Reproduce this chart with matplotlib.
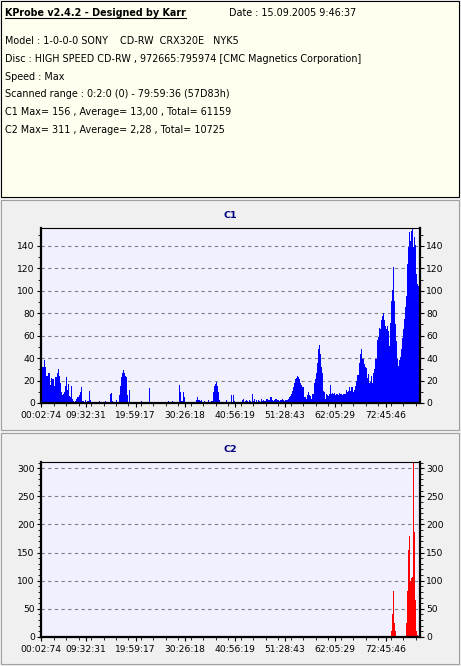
import numpy as np
import matplotlib.pyplot as plt
from matplotlib.patches import Rectangle
from matplotlib.lines import Line2D
from matplotlib.ticker import MultipleLocator, FixedLocator

plt.rcParams['font.family'] = ['DejaVu Sans']

# --- header text ---
title_txt = "KProbe v2.4.2 - Designed by Karr"
date_txt = "Date : 15.09.2005 9:46:37"
info_lines = [
    "Model : 1-0-0-0 SONY    CD-RW  CRX320E   NYK5",
    "Disc : HIGH SPEED CD-RW , 972665:795974 [CMC Magnetics Corporation]",
    "Speed : Max",
    "Scanned range : 0:2:0 (0) - 79:59:36 (57D83h)",
    "C1 Max= 156 , Average= 13,00 , Total= 61159",
    "C2 Max= 311 , Average= 2,28 , Total= 10725",
]

# --- scan range (mm:ss:ff) and x tick labels ---
scan_start = "00:02:00"
scan_end = "79:59:36"
x_labels = ["00:02:74", "09:32:31", "19:59:17", "30:26:18",
            "40:56:19", "51:28:43", "62:05:29", "72:45:46"]

# --- C1 errors, one value per sample block ---
c1 = [
    42, 32, 32, 38, 32, 24, 24, 27, 27, 16,
    22, 21, 21, 15, 23, 23, 27, 30, 24, 18,
    10, 7, 8, 10, 15, 23, 12, 17, 6, 5,
    15, 4, 2, 1, 2, 4, 5, 5, 7, 10,
    14, 2, 2, 1, 3, 1, 2, 2, 11, 3,
    0, 0, 1, 1, 0, 0, 0, 1, 2, 1,
    1, 0, 0, 1, 2, 0, 0, 0, 0, 8,
    9, 2, 1, 0, 0, 3, 0, 0, 7, 15,
    23, 27, 29, 27, 24, 23, 7, 0, 12, 0,
    0, 0, 0, 0, 1, 0, 0,
    0, 0, 0, 2, 0, 0, 0, 0, 0, 1, 0, 13, 1,
    0, 0, 0, 0, 0, 0, 0, 0, 0, 0, 0, 0, 0, 0, 0, 0, 0,
    2, 0, 0, 0, 2, 1, 1, 1, 1, 1, 0, 16, 10, 2, 2, 10, 5, 1, 1,
    0, 0, 0, 0, 0, 0, 0,
    1, 1, 3, 5, 3, 3, 2, 3, 1, 1, 2, 1, 1, 1, 3, 1, 1, 2, 2, 10,
    15, 17, 19, 15, 10, 3, 1, 1, 1, 1, 1, 1, 3, 1, 1, 1, 1, 7,
    1, 7, 2, 1, 1, 1, 1, 1, 1, 1, 3, 4, 1, 2, 3, 2, 1, 3, 2, 1,
    8, 2, 4, 1, 3, 1, 3, 2, 1, 4, 2, 3, 2, 2, 4, 4, 3, 3, 5, 5,
    3, 2, 3, 4, 4, 3, 3, 2, 3, 3, 4, 3, 2, 3, 3, 3, 4, 5, 6, 8,
    11, 14, 18, 21, 22, 24, 23, 21, 18, 16, 14, 14, 5, 5, 4, 7, 10, 7, 6, 4,
    8, 8, 18, 21, 27, 36, 48, 52, 44, 32, 27, 11, 10, 4, 8, 7, 6, 8, 16, 8,
    9, 8, 9, 7, 8, 8, 7, 9, 8, 8, 7, 8, 8, 8, 12, 10, 11, 14, 11, 14,
    14, 10, 12, 15, 20, 25, 25, 36, 44, 48, 39, 39, 35, 32, 31, 22, 26, 18, 19, 24,
    18, 27, 30, 39, 39, 56, 59, 67, 66, 74, 78, 80, 74, 69, 66, 69, 64, 51, 71, 91,
    101, 121, 91, 70, 55, 39, 33, 38, 41, 48, 58, 66, 75, 86, 95, 124, 139, 152, 144, 153,
    156, 139, 148, 141, 115, 106, 104, 115,
]

# --- C2 errors: zero until the last part of the disc ---
c2_tail_start = 350
c2_tail = [10, 41, 81, 25, 11, 0, 0, 0, 0, 0, 0, 0, 0, 0, 0,
           25, 81, 155, 180, 100, 105, 106, 311, 186, 66, 11, 4, 0, 0]


def to_min(s):
    m, sec, fr = (int(v) for v in s.split(":"))
    return m + sec / 60 + fr / 4500


W, H = 461, 666
fig = plt.figure(figsize=(W / 100, H / 100), dpi=100)
fig.patch.set_facecolor('#f0f0f0')


def rect(x0, y0, x1, y1):
    return [x0 / W, 1 - y1 / H, (x1 - x0) / W, (y1 - y0) / H]


# header box and the two panels (behind the axes)
fig.add_artist(Rectangle((1 / W, 1 - 197 / H), 458 / W, 196 / H, transform=fig.transFigure,
                         fc='#fffff0', ec='black', lw=0.8, zorder=-2))
for y0, y1 in [(200, 430), (433, 664)]:
    fig.add_artist(Rectangle((1 / W, 1 - y1 / H), 458 / W, (y1 - y0) / H,
                             transform=fig.transFigure, fc='#f0f0f0', ec='#a0a0a0',
                             lw=0.8, zorder=-2))

t = fig.text(5 / W, 1 - 12.5 / H, title_txt, fontsize=6.9, weight='bold', va='center')
fig.text(229 / W, 1 - 12.5 / H, date_txt, fontsize=6.9, va='center')
for i, line in enumerate(info_lines):
    fig.text(5 / W, 1 - (41 + i * 17.8) / H, line, fontsize=6.9, va='center')

# underline the title
fig.canvas.draw()
bb = t.get_window_extent().transformed(fig.transFigure.inverted())
fig.add_artist(Line2D([bb.x0, bb.x1], [bb.y0 - 0.5 / H, bb.y0 - 0.5 / H],
                      transform=fig.transFigure, color='black', lw=0.8))

x0, x1 = to_min(scan_start), to_min(scan_end)
n = len(c1)
edges = np.linspace(x0, x1, n + 1)
c2 = np.zeros(n)
c2[c2_tail_start:c2_tail_start + len(c2_tail)] = c2_tail
ticks = [to_min(s) for s in x_labels]
step = np.mean(np.diff(ticks[1:]))
minor = np.arange(ticks[0], x1, step / 4)

panels = [
    ("C1", c1, '#0000ff', 156, 20, 10, (228, 403), 215),
    ("C2", c2, '#ff0000', 311, 50, 10, (462, 637), 449),
]
for name, vals, col, ymax, ymaj, ymin, (top, bot), ty in panels:
    ax = fig.add_axes(rect(41, top, 420, bot))
    ax.set_facecolor('#f0f0ff')
    ax.stairs(vals, edges, fill=True, color=col, lw=0)
    ax.set_xlim(x0, x1)
    ax.set_ylim(0, ymax)
    ax.set_axisbelow(True)
    ax.yaxis.grid(True, color='#808080', linestyle=(0, (3, 3)), lw=0.8)
    ax.yaxis.set_major_locator(MultipleLocator(ymaj))
    ax.yaxis.set_minor_locator(MultipleLocator(ymin))
    ax.xaxis.set_major_locator(FixedLocator(ticks))
    ax.xaxis.set_minor_locator(FixedLocator(minor))
    ax.set_xticklabels(x_labels)
    ax.tick_params(axis='y', which='both', left=True, right=True,
                   labelleft=True, labelright=True, direction='out')
    ax.tick_params(which='major', length=3, width=0.8, labelsize=6.6, pad=1.5)
    ax.tick_params(which='minor', length=2, width=0.6)
    ax.tick_params(axis='x', pad=2.5)
    for side in ['left', 'bottom', 'right']:
        ax.spines[side].set_linewidth(1.6)
    ax.spines['top'].set_linewidth(0.8)
    fig.text(230 / W, 1 - ty / H, name, fontsize=6.8, weight='bold', color='#000080',
             ha='center', va='center')

fig.savefig('out.png', dpi=100)
